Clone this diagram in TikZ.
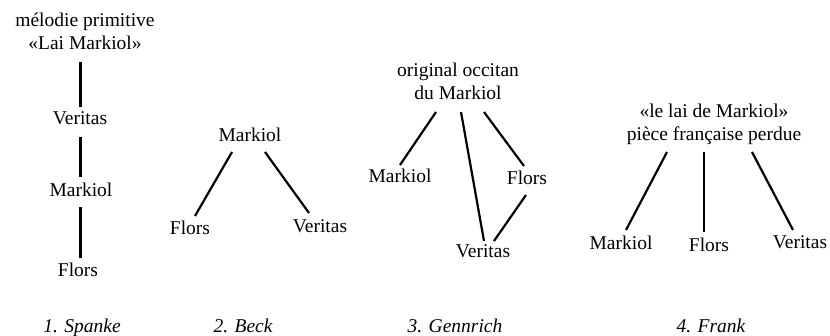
\documentclass[tikz,border=0pt]{standalone}
\usepackage{fontspec}
\setmainfont{Liberation Serif}

\begin{document}
\begin{tikzpicture}[
    x=1pt, y=-1pt,
    lbl/.style={
        inner sep=0pt, anchor=base,
        font=\fontsize{19.5}{23.5}\selectfont
    },
    head/.style={lbl, anchor=south, align=center},
    caption/.style={lbl, font=\fontsize{19.5}{23.5}\selectfont\itshape},
    edge/.style={line width=2.2pt},
]
\useasboundingbox (0,0) rectangle (830,336);

% ── 1. Spanke ────────────────────────────
\node[head] (sH) at (85,50) {mélodie primitive\\«Lai Markiol»};
\node[lbl] (sV) at (80,125) {Veritas};
\node[lbl] (sM) at (81,197) {Markiol};
\node[lbl] (sF) at (78,277) {Flors};
\node[caption] (sC) at (82,333) {1. Spanke};

% ── 2. Beck ──────────────────────────────
\node[lbl] (bM) at (250,142) {Markiol};
\node[lbl] (bF) at (190,235) {Flors};
\node[lbl] (bV) at (320,233) {Veritas};
\node[caption] (bC) at (243,333) {2. Beck};

% ── 3. Gennrich ──────────────────────────
\node[head] (gH) at (458,100) {original occitan\\du Markiol};
\node[lbl] (gM) at (400,183) {Markiol};
\node[lbl] (gF) at (527,185) {Flors};
\node[lbl] (gV) at (483,258) {Veritas};
\node[caption] (gC) at (455,333) {3. Gennrich};

% ── 4. Frank ─────────────────────────────
\node[head] (fH) at (714,145) {«le lai de Markiol»\\pièce française perdue};
\node[lbl] (fM) at (621,250) {Markiol};
\node[lbl] (fF) at (709,252) {Flors};
\node[lbl] (fV) at (800,249) {Veritas};
\node[caption] (fC) at (711,333) {4. Frank};

% ── Spanke chain ──────
\draw[edge] ([shift={(-4.5,12)}]sH.south) -- ([shift={(0.5,-18)}]sV.base);
\draw[edge] ([shift={(0.5,12)}]sV.base) -- ([shift={(-0.5,-20)}]sM.base);
\draw[edge] ([shift={(-0.5,10)}]sM.base) -- ([shift={(2.5,-19)}]sF.base);

% ── Beck ──────
\draw[edge] ([shift={(-18,10)}]bM.base) -- ([shift={(5,-19)}]bF.base);
\draw[edge] ([shift={(15,10)}]bM.base) -- ([shift={(-11,-20)}]bV.base);

% ── Gennrich ──────
\draw[edge] ([shift={(-22,12)}]gH.south) -- ([shift={(0,-18)}]gM.base);
\draw[edge] ([shift={(3,12)}]gH.south) -- ([shift={(1,-17)}]gV.base);
\draw[edge] ([shift={(26,12)}]gH.south) -- ([shift={(-3,-19)}]gF.base);
\draw[edge] ([shift={(-1,10)}]gF.base) -- ([shift={(11,-17)}]gV.base);

% ── Frank ──────
\draw[edge] ([shift={(-47,7)}]fH.south) -- ([shift={(5,-20)}]fM.base);
\draw[edge] ([shift={(-10,7)}]fH.south) -- ([shift={(-5,-20)}]fF.base);
\draw[edge] ([shift={(38,7)}]fH.south) -- ([shift={(-7,-19)}]fV.base);

\end{tikzpicture}
\end{document}
